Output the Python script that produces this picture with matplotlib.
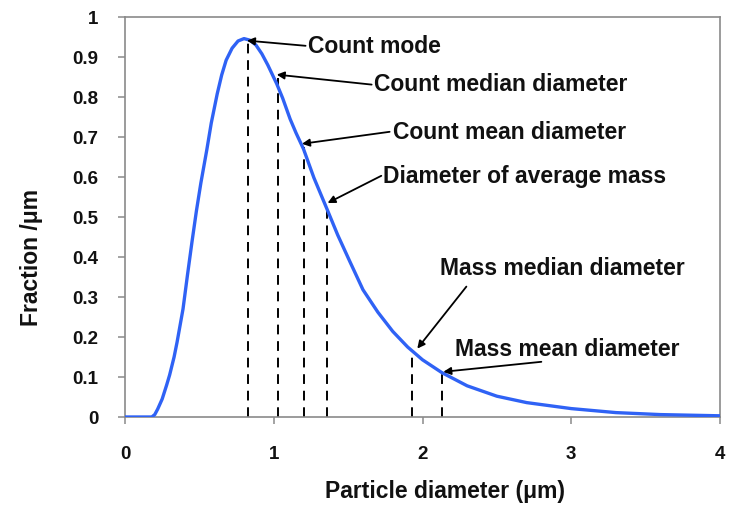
import matplotlib
matplotlib.use("Agg")
import matplotlib.pyplot as plt

plt.rcParams['font.family'] = ['Liberation Sans', 'DejaVu Sans']

diameter = [0.00, 0.10, 0.18, 0.20, 0.22, 0.25, 0.28, 0.30, 0.33, 0.35, 0.39, 0.42,
            0.45, 0.48, 0.51, 0.55, 0.58, 0.62, 0.65, 0.68, 0.72, 0.76, 0.80, 0.84,
            0.88, 0.92, 0.96, 1.02, 1.06, 1.11, 1.15, 1.20, 1.27, 1.36, 1.43, 1.51,
            1.60, 1.70, 1.80, 1.90, 2.00, 2.13, 2.30, 2.50, 2.70, 3.00, 3.30, 3.60, 4.00]
fraction = [0.000, 0.000, 0.000, 0.006, 0.020, 0.045, 0.080, 0.105, 0.150, 0.187, 0.270, 0.355,
            0.437, 0.515, 0.585, 0.668, 0.735, 0.808, 0.855, 0.892, 0.922, 0.940, 0.946, 0.942,
            0.930, 0.908, 0.880, 0.833, 0.797, 0.745, 0.710, 0.670, 0.598, 0.518, 0.455, 0.390,
            0.318, 0.262, 0.214, 0.175, 0.143, 0.111, 0.078, 0.052, 0.036, 0.021, 0.011, 0.006, 0.003]

# Characteristic diameters and curve height at each
marker_names = ["Count mode", "Count median diameter", "Count mean diameter",
                "Diameter of average mass", "Mass median diameter", "Mass mean diameter"]
marker_x = [0.83, 1.03, 1.20, 1.355, 1.93, 2.13]
marker_y = [0.945, 0.848, 0.675, 0.525, 0.162, 0.111]

x_ticks = [0, 1, 2, 3, 4]
y_ticks = [0, 0.1, 0.2, 0.3, 0.4, 0.5, 0.6, 0.7, 0.8, 0.9, 1.0]
y_tick_labels = ["0", "0.1", "0.2", "0.3", "0.4", "0.5", "0.6", "0.7", "0.8", "0.9", "1"]

fig = plt.figure(figsize=(7.32, 5.06), dpi=100)
ax = fig.add_axes([125/732, 1-418/506, (720-125)/732, (418-18)/506])

ax.plot(diameter, fraction, color='#2f62f5', lw=2.4, solid_capstyle='round',
        solid_joinstyle='round', zorder=3)

for mx, my in zip(marker_x, marker_y):
    ax.plot([mx, mx], [0, my], color='black', lw=1.4, dashes=(5, 3.5), zorder=2)

# text anchors (left, center) and arrow tails
text_pos = [(1.227, 0.928), (1.671, 0.833), (1.799, 0.713), (1.732, 0.603), (2.115, 0.373), (2.216, 0.171)]
tail_pos = [(1.214, 0.928), (1.658, 0.831), (1.779, 0.713), (1.723, 0.603), (2.295, 0.326), (2.799, 0.138)]
tip_pos = [(0.82, 0.941), (1.02, 0.856), (1.19, 0.683), (1.362, 0.535), (1.965, 0.171), (2.14, 0.113)]

for name, tp, tl, tip in zip(marker_names, text_pos, tail_pos, tip_pos):
    ax.annotate('', xy=tip, xytext=tl,
                arrowprops=dict(arrowstyle='-|>', color='black', lw=1.3,
                                mutation_scale=11, shrinkA=0, shrinkB=0), zorder=4)
    ax.text(tp[0], tp[1], name, ha='left', va='center', fontsize=16.5,
            fontweight='bold', color='#111111', zorder=5)

ax.set_xlim(0, 4)
ax.set_ylim(0, 1)
ax.set_xticks(x_ticks)
ax.set_xticklabels([str(t) for t in x_ticks])
ax.set_yticks(y_ticks)
ax.set_yticklabels(y_tick_labels)

for s in ax.spines.values():
    s.set_color('#8a8a8a')
    s.set_linewidth(1.2)

ax.tick_params(axis='both', direction='out', length=5, width=1.1, color='#8a8a8a',
               labelsize=13.5, labelcolor='#111111')
ax.tick_params(axis='y', pad=14)
ax.tick_params(axis='x', pad=15)
for lab in ax.get_xticklabels() + ax.get_yticklabels():
    lab.set_fontweight('bold')

ax.set_xlabel('Particle diameter (\u03bcm)', fontsize=16.5, fontweight='bold', color='#111111')
ax.set_ylabel('Fraction /\u03bcm', fontsize=16.5, fontweight='bold', color='#111111')
ax.xaxis.set_label_coords(0.538, -0.155)
ax.yaxis.set_label_coords(-0.137, 0.40)

fig.savefig('out.png', dpi=100)
